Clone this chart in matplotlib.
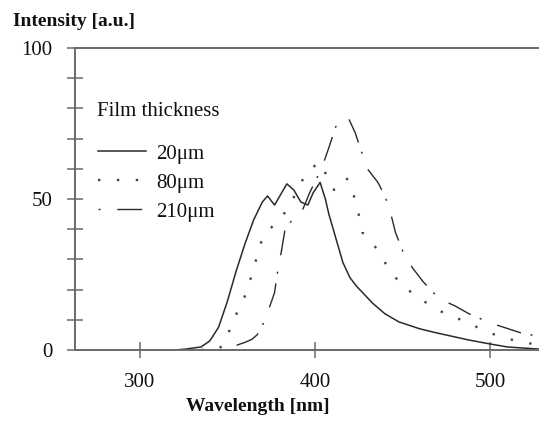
import matplotlib
matplotlib.use("Agg")
import matplotlib.pyplot as plt
from matplotlib.ticker import MultipleLocator

plt.rcParams['font.family'] = ['Liberation Serif', 'DejaVu Serif']

# Emission spectra (wavelength in nm, intensity in a.u.)
wl_20 = [320, 326, 335, 340, 345, 350, 355, 360, 365, 370, 373, 377, 380, 384,
         388, 392, 396, 399, 403, 406, 408, 411, 416, 420, 424, 433, 440, 448,
         460, 470, 488, 500, 510, 528]
int_20 = [0, 0.3, 1, 3, 7.5, 16, 26, 35, 43, 49, 51, 48, 51, 55,
          53, 49, 48, 52, 55.5, 50, 45, 39, 29, 24, 21, 15.5, 12, 9.3,
          7, 5.6, 3.3, 2, 1, 0.3]

wl_80 = [335, 345, 348, 352, 356, 361, 364, 367, 370, 374, 378, 385, 390, 395,
         400, 404, 407, 411, 415, 418, 421, 425, 427, 432, 436, 440, 446, 453,
         461, 471, 481, 491, 500, 511, 521, 528]
int_80 = [0, 0.5, 1.6, 7.6, 13, 19, 25, 31, 37, 40, 42, 47, 53, 58.5,
          61, 62, 57, 53, 55, 57, 54, 45, 39, 36, 33, 29, 24, 20,
          16.6, 13, 10.6, 8, 5.6, 3.6, 2.3, 1.8]

wl_210 = [345, 350, 355, 360, 364, 367, 370, 374, 377, 379, 381, 383, 387, 392,
          397, 402, 405, 408, 412, 416, 419, 423, 427, 430, 436, 440, 443, 446,
          451, 456, 462, 471, 480, 488, 500, 509, 518, 528]
int_210 = [0, 0.5, 1.5, 2.5, 3.5, 5, 8, 14, 19, 27, 33, 40, 43, 45,
           52, 58, 62, 67, 74, 76, 77, 72, 65, 60, 55.5, 51, 46, 39,
           31.5, 27, 22.5, 17, 14.6, 12, 9, 7.3, 5.6, 4.5]

labels = ['20μm', '80μm', '210μm']
legend_title = 'Film thickness'
x_ticks = [300, 400, 500]
y_ticks = [0, 50, 100]

line_col = '#2a2a2a'
axis_col = '#6a6a6a'

fig = plt.figure(figsize=(5.39, 4.23), dpi=100)
ax = fig.add_axes([0.139, 0.1726, 0.861, 0.7139])

ax.plot(wl_20, int_20, color=line_col, lw=1.1, label=labels[0])
ax.plot(wl_80, int_80, color='#444444', lw=1.7, linestyle=(0, (1, 7)),
        label=labels[1])
ax.plot(wl_210, int_210, color=line_col, lw=1.0,
        linestyle=(0, (1.5, 12, 18, 7)), label=labels[2])

ax.set_xlim(263, 528)
ax.set_ylim(0, 100)
ax.set_xticks(x_ticks)
ax.set_yticks(y_ticks)
ax.yaxis.set_minor_locator(MultipleLocator(10))

for side in ['left', 'bottom', 'top']:
    ax.spines[side].set_color(axis_col)
    ax.spines[side].set_linewidth(1.4)
ax.spines['right'].set_visible(False)

ax.tick_params(axis='both', which='both', direction='inout', length=11,
               width=1.1, color=axis_col, labelsize=15, labelcolor='#111111')
ax.tick_params(axis='y', which='major', pad=10.5)
ax.tick_params(axis='x', which='major', pad=11)
ax.tick_params(top=False, right=False)

ax.set_xlabel('Wavelength [nm]', fontsize=14, fontweight='bold', color='#111111')
ax.xaxis.set_label_coords(0.394, -0.187)
ax.xaxis.label.set_verticalalignment('center')
ax.set_ylabel('Intensity [a.u.]', fontsize=14, fontweight='bold',
              color='#111111', rotation=0, ha='left', va='center')
ax.yaxis.set_label_coords(-0.1336, 1.089)

ax.text(0.047, (350 - 111) / 302, legend_title, transform=ax.transAxes,
        fontsize=15, color='#111111', ha='left', va='center')

leg = ax.legend(loc='upper left', bbox_to_anchor=(0.05, 0.682), frameon=False,
                fontsize=15, handlelength=2.3, handletextpad=0.5,
                labelspacing=0.45, borderpad=0, borderaxespad=0)
for t in leg.get_texts():
    t.set_color('#111111')

fig.savefig('out.png', dpi=100)
